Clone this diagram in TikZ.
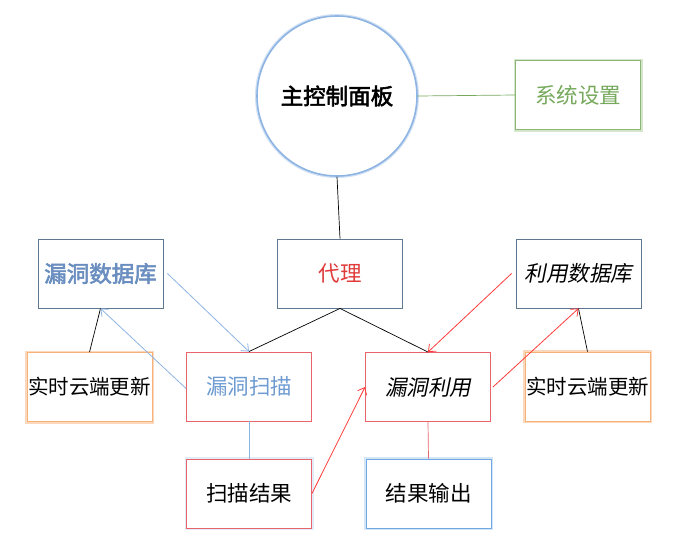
\documentclass[tikz,border=0pt]{standalone}
\usepackage{fontspec}
\setmainfont{Noto Sans CJK SC}[AutoFakeBold=2.5,AutoFakeSlant=0.2]
\usepackage{tikz}
\usetikzlibrary{positioning,arrows.meta}
\definecolor{slate}{HTML}{5F7892}
\definecolor{skyline}{HTML}{8DB4E2}
\definecolor{scanred}{HTML}{E8636B}
\definecolor{arrred}{HTML}{FF3B3B}
\definecolor{leaf}{HTML}{76A95C}
\definecolor{peach}{HTML}{F7B27A}
\definecolor{bluetext}{HTML}{6E9BD2}
\definecolor{deepblue}{HTML}{6A8EC0}
\definecolor{outblue}{HTML}{6FA8E2}
\definecolor{proxyred}{HTML}{E03A3A}
\tikzset{
    box/.style={draw, rectangle, fill=white, minimum width=125pt, minimum height=69pt, inner sep=0pt, font=\fontsize{21.5}{25}\selectfont, line width=0.9pt},
    glow/.style={preaction={draw=#1, line width=4pt, opacity=0.5}},
    link/.style={line width=0.7pt},
    arr/.style={line width=0.8pt, -{Straight Barb[length=6pt,width=10pt]}},
}
\begin{document}
\begin{tikzpicture}[x=1pt,y=-1pt]
    \useasboundingbox (0,0) rectangle (681,560);
    \node[circle, draw=skyline, line width=1.6pt, fill=white, minimum size=160pt, glow=skyline!80, font=\fontsize{22.5}{26}\selectfont\bfseries] (main) at (337,96) {主控制面板};
    \node[box, draw=leaf!85, text=leaf, glow=leaf!60] (sys) at (578,95) {系统设置};
    \node[box, draw=slate, text=deepblue, font=\fontsize{22.5}{26}\selectfont\bfseries] (vdb) at (100.5,273.5) {漏洞数据库};
    \node[box, draw=slate, text=proxyred] (proxy) at (340,273.5) {代理};
    \node[box, draw=slate, font=\fontsize{21.5}{25}\selectfont\itshape] (edb) at (578.5,273.5) {利用数据库};
    \node[box, draw=peach, glow=peach, font=\fontsize{20.5}{24}\selectfont] (cloudL) at (89.5,387) {实时云端更新};
    \node[box, draw=scanred, text=bluetext] (scan) at (249,386.5) {漏洞扫描};
    \node[box, draw=scanred, font=\fontsize{21.5}{25}\selectfont\itshape] (exploit) at (428,387) {漏洞利用};
    \node[box, draw=peach, glow=peach, font=\fontsize{20.5}{24}\selectfont] (cloudR) at (587.5,386.5) {实时云端更新};
    \node[box, draw=scanred, glow=skyline!50] (result) at (249,493.5) {扫描结果};
    \node[box, draw=outblue, glow=outblue!60] (output) at (428.5,493.5) {结果输出};

    \draw[link, leaf] (main.east) -- (sys.west);
    \draw[link] (main.south) -- (proxy.north);
    \draw[link] (proxy.south) -- (scan.north);
    \draw[link] (proxy.south) -- (exploit.north);
    \draw[link] (cloudL.north) -- (vdb.south);
    \draw[link] (cloudR.north) -- (edb.south);
    \draw[link, skyline] (scan.south) -- (result.north);
    \draw[link, scanred] (exploit.south) -- (output.north);
    \draw[arr, skyline] ([xshift=4pt]vdb.east) -- (scan.north);
    \draw[arr, skyline] ([yshift=-2pt]scan.west) -- (vdb.south);
    \draw[arr, arrred] ([xshift=-4pt]edb.west) -- (exploit.north);
    \draw[arr, arrred] ([xshift=2pt]exploit.east) -- (edb.south);
    \draw[arr, arrred] (result.east) -- (exploit.west);
\end{tikzpicture}
\end{document}
